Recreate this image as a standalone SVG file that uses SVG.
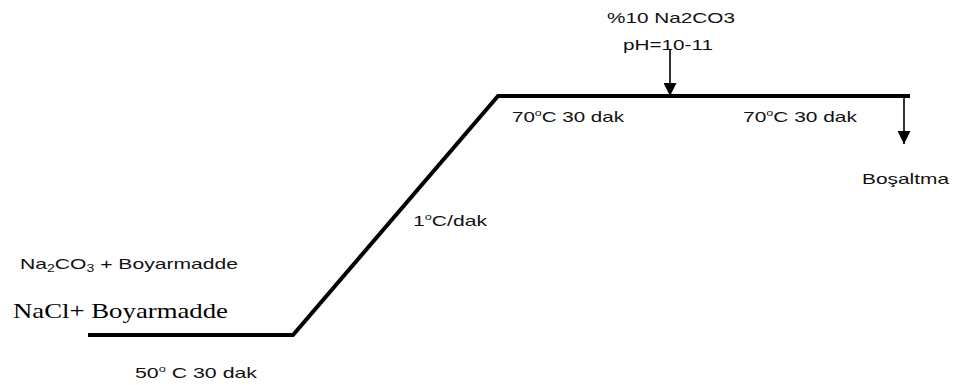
<svg xmlns="http://www.w3.org/2000/svg" width="955" height="385" viewBox="0 0 955 385">
<style>
.lbl{font-family:"Liberation Sans",Arial,sans-serif;font-size:15px;fill:#111}
.serif{font-family:"Liberation Serif","Times New Roman",serif;font-size:21px;fill:#000}
.profile{fill:none;stroke:#000;stroke-width:4;stroke-linejoin:miter}
.arrow{fill:none;stroke:#000;stroke-width:1.6}
</style>
<defs>
<marker id="ah" viewBox="0 0 14 14" refX="14" refY="7" markerWidth="14" markerHeight="13" markerUnits="userSpaceOnUse" orient="auto">
<path d="M0,0 L14,7 L0,14 z" fill="#000"/>
</marker>
</defs>
<rect width="955" height="385" fill="#fff"/>
<g id="connectors">
<polyline class="profile" points="88,335 293,335 498,96 910,96"/>
<line class="arrow" x1="670" y1="50" x2="670" y2="96" marker-end="url(#ah)"/>
<line class="arrow" x1="904" y1="97" x2="904" y2="144" marker-end="url(#ah)"/>
</g>
<g id="dosing">
<text class="lbl" x="607" y="23" textLength="128" lengthAdjust="spacingAndGlyphs">%10 Na2CO3</text>
<text class="lbl" x="623" y="50" textLength="90" lengthAdjust="spacingAndGlyphs">pH=10-11</text>
</g>
<g id="hold70a">
<text class="lbl" x="512" y="122" textLength="112" lengthAdjust="spacingAndGlyphs">70<tspan font-size="9" dy="-6">o</tspan><tspan dy="6">C 30 dak</tspan></text>
</g>
<g id="hold70b">
<text class="lbl" x="743" y="122" textLength="114" lengthAdjust="spacingAndGlyphs">70<tspan font-size="9" dy="-6">o</tspan><tspan dy="6">C 30 dak</tspan></text>
</g>
<g id="drain">
<text class="lbl" x="862" y="184" textLength="87" lengthAdjust="spacingAndGlyphs">Boşaltma</text>
</g>
<g id="ramp">
<text class="lbl" x="413" y="226" textLength="74" lengthAdjust="spacingAndGlyphs">1<tspan font-size="9" dy="-6">o</tspan><tspan dy="6">C/dak</tspan></text>
</g>
<g id="start">
<text class="lbl" x="20" y="269" textLength="218" lengthAdjust="spacingAndGlyphs" font-size="14">Na<tspan font-size="10" dy="3">2</tspan><tspan dy="-3">CO</tspan><tspan font-size="10" dy="3">3</tspan><tspan dy="-3"> + Boyarmadde</tspan></text>
<text class="serif" x="13" y="318" textLength="215" lengthAdjust="spacingAndGlyphs">NaCl+ Boyarmadde</text>
</g>
<g id="hold50">
<text class="lbl" x="135" y="378" textLength="122" lengthAdjust="spacingAndGlyphs">50<tspan font-size="9" dy="-6">o</tspan><tspan dy="6"> C 30 dak</tspan></text>
</g>
</svg>
